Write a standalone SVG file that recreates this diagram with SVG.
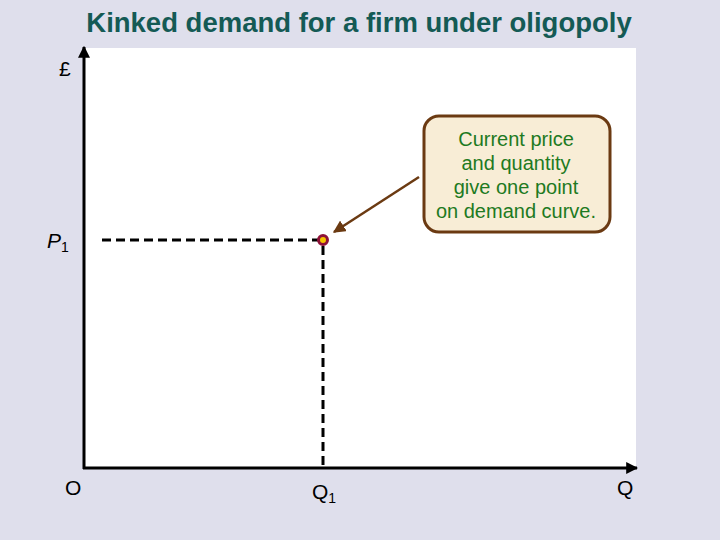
<svg xmlns="http://www.w3.org/2000/svg" width="720" height="540" viewBox="0 0 720 540">
<defs>
<style>
.lbl{font-family:"Liberation Sans",Arial,sans-serif;font-size:21px;fill:#000}
.sub{font-size:14px}
.call{font-family:"Liberation Sans",Arial,sans-serif;font-size:20px;fill:#1E7A22;text-anchor:middle}
.dash{stroke:#000;stroke-width:3;stroke-dasharray:9,5;fill:none}
.axis{stroke:#000;stroke-width:3;fill:none}
</style>
<marker id="ax" viewBox="0 0 10 10" refX="9" refY="5" markerWidth="4" markerHeight="4" orient="auto"><path d="M0,0 L10,5 L0,10 z" fill="#000"/></marker>
<marker id="br" viewBox="0 0 10 10" refX="9" refY="5" markerWidth="5" markerHeight="5" orient="auto"><path d="M0,0 L10,5 L0,10 z" fill="#6B3A12"/></marker>
</defs>
<rect width="720" height="540" fill="#DFDFEC"/>
<rect x="85" y="48" width="551" height="420" fill="#FFFFFF"/>
<text x="359" y="32" font-family="'Liberation Sans',Arial,sans-serif" font-size="27.5" font-weight="bold" fill="#145A55" text-anchor="middle">Kinked demand for a firm under oligopoly</text>
<g id="axes">
<line class="axis" x1="84" y1="469" x2="84" y2="47" marker-end="url(#ax)"/>
<line class="axis" x1="83" y1="468" x2="637" y2="468" marker-end="url(#ax)"/>
</g>
<g id="labels">
<text class="lbl" x="59" y="76">£</text>
<text class="lbl" x="47" y="248" font-style="italic">P<tspan class="sub" dy="4" font-style="normal">1</tspan></text>
<text class="lbl" x="65" y="495">O</text>
<text class="lbl" x="312" y="499">Q<tspan class="sub" dy="4">1</tspan></text>
<text class="lbl" x="617" y="495">Q</text>
</g>
<g id="connectors">
<line class="dash" x1="102" y1="240" x2="318" y2="240"/>
<line class="dash" x1="323" y1="246" x2="323" y2="468"/>
<line x1="419" y1="177" x2="334" y2="232" stroke="#6B3A12" stroke-width="2.5" marker-end="url(#br)"/>
</g>
<g id="point">
<circle cx="323" cy="240" r="4.5" fill="#F5C400" stroke="#8E1238" stroke-width="3"/>
</g>
<g id="callout">
<rect x="424" y="116" width="186" height="116" rx="15" fill="#F8EDD6" stroke="#6B3A12" stroke-width="3"/>
<text class="call" x="516" y="146">Current price</text>
<text class="call" x="516" y="170">and quantity</text>
<text class="call" x="516" y="194">give one point</text>
<text class="call" x="516" y="218">on demand curve.</text>
</g>
</svg>
